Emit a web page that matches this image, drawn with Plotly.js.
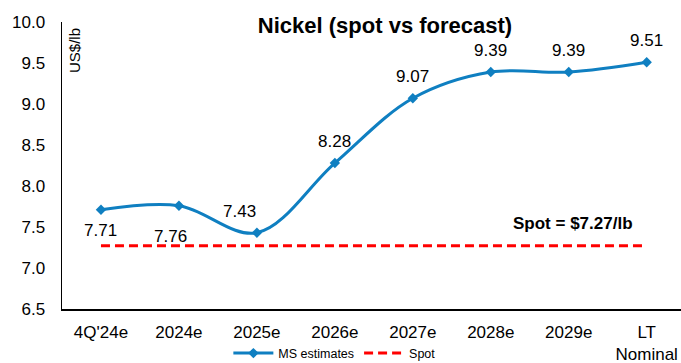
<!DOCTYPE html>
<html>
<head>
<meta charset="utf-8">
<script src="https://cdn.plot.ly/plotly-3.0.1.min.js"></script>
<style>
html,body{margin:0;padding:0;background:#fff;}
#chart{width:681px;height:363px;}
</style>
</head>
<body>
<div id="chart"></div>
<script>
const categories = ["4Q'24e", "2024e", "2025e", "2026e", "2027e", "2028e", "2029e", "LT<br>Nominal"];
const msEstimates = [7.71, 7.76, 7.43, 8.28, 9.07, 9.39, 9.39, 9.51];
const spotPrice = 7.27;
const spotLabel = "Spot = $7.27/lb";
const yTickVals = [6.5, 7.0, 7.5, 8.0, 8.5, 9.0, 9.5, 10.0];

const blue = '#0f7fc1';
const fontFam = 'Liberation Sans, Arial, Helvetica, sans-serif';

// label offsets per point (style only)
const labelShift = [
  {x: 0, y: -21}, {x: -8, y: -31}, {x: -17, y: 21}, {x: 0, y: 22},
  {x: 0, y: 22}, {x: 0, y: 22}, {x: 0, y: 22}, {x: 0, y: 22}
];

const traces = [
  {
    x: categories, y: msEstimates, type: 'scatter', mode: 'lines+markers',
    name: 'MS estimates',
    line: {color: blue, width: 3, shape: 'spline', smoothing: 1},
    marker: {symbol: 'diamond', size: 8, color: blue}
  },
  {
    x: categories, y: categories.map(() => spotPrice), type: 'scatter', mode: 'lines',
    name: 'Spot',
    line: {color: '#ff0000', width: 3, dash: '9px,5px'}
  }
];

const annotations = msEstimates.map((v, i) => ({
  x: categories[i], y: v, xref: 'x', yref: 'y',
  text: v.toFixed(2), showarrow: false,
  xshift: labelShift[i].x, yshift: labelShift[i].y,
  font: {family: fontFam, size: 17, color: '#000'}
}));
annotations.push({
  x: 6.05, y: spotPrice, xref: 'x', yref: 'y', text: '<b>' + spotLabel + '</b>',
  showarrow: false, yshift: 22, font: {family: fontFam, size: 17, color: '#000'}
});
annotations.push({
  x: 0, y: 1, xref: 'paper', yref: 'paper', xanchor: 'left', yanchor: 'top',
  xshift: 2, yshift: -4, text: 'US$/lb', textangle: -90, showarrow: false,
  font: {family: fontFam, size: 15, color: '#000'}
});

const layout = {
  width: 681, height: 363,
  margin: {l: 62, r: 0, t: 22, b: 54, autoexpand: false},
  paper_bgcolor: '#fff', plot_bgcolor: '#fff',
  font: {family: fontFam, color: '#000'},
  title: {text: '<b>Nickel (spot vs forecast)</b>', font: {family: fontFam, size: 22, color: '#000'},
          x: 385/681, xanchor: 'center', y: 1 - 25/363, yanchor: 'middle'},
  xaxis: {
    type: 'category', range: [-0.5, 7.44], showgrid: false, zeroline: false,
    showline: true, linecolor: '#000', linewidth: 1.5, ticks: '',
    tickfont: {family: fontFam, size: 17, color: '#000'}, ticklabelstandoff: 7
  },
  yaxis: {
    range: [6.5, 10.0], tickvals: yTickVals, ticktext: yTickVals.map(v => v.toFixed(1)),
    showgrid: false, zeroline: false, showline: true, linecolor: '#000', linewidth: 1.5,
    ticks: '', tickfont: {family: fontFam, size: 17, color: '#000'}, ticklabelstandoff: 12
  },
  showlegend: true,
  legend: {orientation: 'h', x: 0.44, xanchor: 'center', y: -0.155, yanchor: 'middle',
           font: {family: fontFam, size: 12.5, color: '#000'}, itemwidth: 40, tracegroupgap: 0},
  annotations: annotations
};

Plotly.newPlot('chart', traces, layout, {displayModeBar: false, staticPlot: true});
</script>
</body>
</html>
